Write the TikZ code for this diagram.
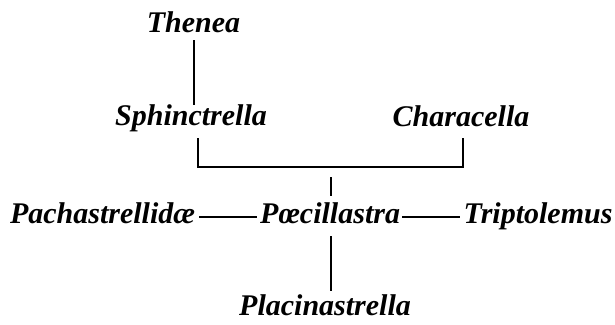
\documentclass[tikz,border=0pt]{standalone}
\usepackage{fontspec}
\setmainfont{Liberation Serif}
\begin{document}
\begin{tikzpicture}[x=1pt,y=-1pt,
  taxon/.style={inner sep=0pt, anchor=base, font=\fontsize{30}{32}\selectfont\bfseries\itshape},
  link/.style={line width=1.5pt, black}]
\useasboundingbox (0,0) rectangle (615,324);
\node[taxon] (thenea) at (193.5,32) {Thenea};
\node[taxon] (sphinc) at (191,125) {Sphinctrella};
\node[taxon] (charac) at (461,126) {Characella};
\node[taxon] (pach) at (102.5,223) {Pachastrellidæ};
\node[taxon] (poec) at (330,223) {Pœcillastra};
\node[taxon] (trip) at (538,223) {Triptolemus};
\node[taxon] (plac) at (325,315) {Placinastrella};
\coordinate (j) at (331,167);
% Thenea - Sphinctrella
\draw[link] ([xshift=0.5pt,yshift=-8pt]thenea.base) -- ([xshift=3pt,yshift=-1pt]sphinc.north);
% bracket
\coordinate (sa) at ([xshift=7pt,yshift=-13pt]sphinc.base);
\coordinate (ca) at ([xshift=2pt,yshift=-12pt]charac.base);
\draw[link] (sa) -- (sa |- j) -- (ca |- j) -- (ca);
% stem to Poecillastra
\draw[link] ([yshift=-10pt]j) -- ([yshift=6pt]poec.north -| j);
% horizontal links
\draw[link] ([xshift=4pt,yshift=6pt]pach.base east) -- ([xshift=-3pt,yshift=6pt]poec.base west);
\draw[link] ([xshift=2pt,yshift=6pt]poec.base east) -- ([xshift=-3pt,yshift=6pt]trip.base west);
% down to Placinastrella
\draw[link] ([xshift=1pt,yshift=-13pt]poec.base) -- ([xshift=6pt,yshift=3pt]plac.north);
\end{tikzpicture}
\end{document}
